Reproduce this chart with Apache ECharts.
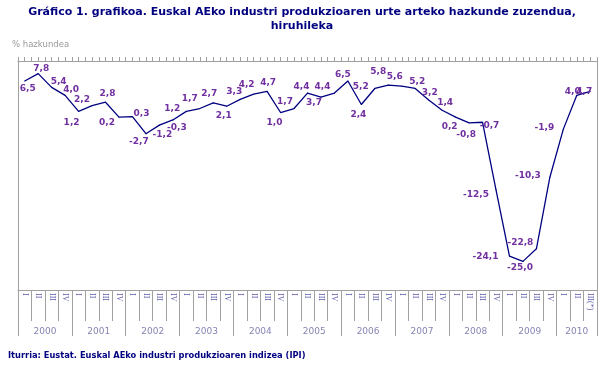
<!DOCTYPE html>
<html>
<head>
<meta charset="utf-8">
<script src="https://cdn.jsdelivr.net/npm/echarts@6/dist/echarts.min.js"></script>
<style>html,body{margin:0;padding:0;background:#fff;}#c{width:602px;height:376px;}</style>
</head>
<body>
<div id="c"></div>
<script>
// ---- data ----
var years = ['2000','2001','2002','2003','2004','2005','2006','2007','2008','2009','2010'];
var quartersPerYear = [4,4,4,4,4,4,4,4,4,4,3];
var quarterNames = ['I','II','III','IV'];
var lastQuarterLabel = 'III(*)';
var values = [
  6.5, 7.8, 5.4, 4.0,
  1.2, 2.2, 2.8, 0.2,
  0.3, -2.7, -1.2, -0.3,
  1.2, 1.7, 2.7, 2.1,
  3.3, 4.2, 4.7, 1.0,
  1.7, 4.4, 3.7, 4.4,
  6.5, 2.4, 5.2, 5.8,
  5.6, 5.2, 3.2, 1.4,
  0.2, -0.8, -0.7, -12.5,
  -24.1, -25.0, -22.8, -10.3,
  -1.9, 4.0, 4.7
];
// label placement offsets (layout only)
var labelOffsets = [
  [3,8],[3,-5],[7,-6],[6,-6],
  [-7,11],[-10,-6],[2,-9],[-12,6],
  [9,-3],[-7,8],[3,10],[4,8],
  [-14,-3],[-10,-10],[-4,-9],[-3,9],
  [-6,-8],[-7,-10],[1,-9],[-6,10],
  [-9,-7],[-6,-6],[-7,6],[-12,-6],
  [-5,-6],[-3,10],[-14,-2],[-10,-13],
  [-7,-10],[2,-7],[1,-7],[3,-8],
  [-6,10],[-3,12],[7,3],[-20,5],
  [-24,0],[-3,6],[-16,-6],[-22,-2],
  [-19,-1],[-4,-4],[-6,0]
];

// ---- build categories ----
var categories = [];
var yearBounds = [0];
var yearCenters = [];
var pos = 0;
years.forEach(function (y, i) {
  var n = quartersPerYear[i];
  for (var q = 0; q < n; q++) {
    var isLast = (i === years.length - 1 && q === n - 1);
    categories.push(isLast ? lastQuarterLabel : quarterNames[q]);
  }
  yearCenters.push(pos + n / 2);
  pos += n;
  yearBounds.push(pos);
});
var total = pos;

function fmt(v) { return v.toFixed(1).replace('.', ','); }

var seriesData = values.map(function (v, i) {
  return { value: v, label: { offset: labelOffsets[i] } };
});

var gray = '#a0a0a0';
var chart = echarts.init(document.getElementById('c'), null, {renderer: 'canvas'});
chart.setOption({
  animation: false,
  backgroundColor: '#ffffff',
  title: [
    {
      text: 'Gráfico 1. grafikoa. Euskal AEko industri produkzioaren urte arteko hazkunde zuzendua,\nhiruhileka',
      left: 302, top: 5, padding: 0,
      textAlign: 'center',
      textStyle: { fontFamily: 'DejaVu Sans', fontSize: 11, fontWeight: 'bold', color: '#000080', lineHeight: 14, align: 'center' }
    },
    {
      text: '% hazkundea', left: 12, top: 40, padding: 0,
      textStyle: { fontFamily: 'DejaVu Sans', fontSize: 8.5, fontWeight: 'normal', color: '#9a9a9a' }
    },
    {
      text: 'Iturria: Eustat. Euskal AEko industri produkzioaren indizea (IPI)', left: 8, top: 352, padding: 0,
      textStyle: { fontFamily: 'DejaVu Sans', fontSize: 8.3, fontWeight: 'bold', color: '#000080' }
    }
  ],
  grid: { left: 18, right: 5, top: 61, bottom: 86 },
  xAxis: [
    {
      type: 'category', data: categories, position: 'bottom', boundaryGap: true,
      axisLine: { show: true, onZero: false, lineStyle: { color: gray, width: 1 } },
      axisTick: { show: true, interval: 0, length: 31, lineStyle: { color: gray } },
      axisLabel: { interval: 0, rotate: -90, margin: 3, fontSize: 8, fontFamily: 'Liberation Serif', color: '#5a5aaa' },
      splitLine: { show: false }
    },
    {
      type: 'value', min: 0, max: total, position: 'bottom',
      axisLine: { show: false, onZero: false },
      axisTick: { show: true, customValues: yearBounds, length: 46, lineStyle: { color: gray } },
      axisLabel: {
        show: true, customValues: yearCenters, margin: 37, fontSize: 9, fontFamily: 'DejaVu Sans', color: '#8585b5',
        formatter: function (v) {
          for (var i = 0; i < yearCenters.length; i++) { if (Math.abs(yearCenters[i] - v) < 1e-6) return years[i]; }
          return '';
        }
      },
      splitLine: { show: false }
    },
    {
      type: 'value', min: 0, max: total, interval: 0.5, position: 'top',
      axisLine: { show: true, onZero: false, lineStyle: { color: gray } },
      axisTick: { show: true, length: 4, lineStyle: { color: gray } },
      axisLabel: { show: false },
      splitLine: { show: false }
    }
  ],
  yAxis: [
    {
      type: 'value', min: -30, max: 10, position: 'left',
      axisLine: { show: true, onZero: false, lineStyle: { color: gray } },
      axisTick: { show: false }, axisLabel: { show: false }, splitLine: { show: false }
    },
    {
      type: 'value', min: -30, max: 10, position: 'right',
      axisLine: { show: true, onZero: false, lineStyle: { color: gray } },
      axisTick: { show: false }, axisLabel: { show: false }, splitLine: { show: false }
    }
  ],
  series: [
    {
      type: 'line', xAxisIndex: 0, yAxisIndex: 0,
      data: seriesData,
      symbol: 'circle', symbolSize: 1, showSymbol: true,
      itemStyle: { color: '#000080' },
      lineStyle: { color: '#000080', width: 1.3 },
      label: {
        show: true, position: 'inside', align: 'center', verticalAlign: 'middle',
        fontFamily: 'DejaVu Sans', fontSize: 9, fontWeight: 'bold', color: '#7030a0',
        formatter: function (p) { return fmt(p.value); }
      },
      emphasis: { disabled: true }
    }
  ]
});
</script>
</body>
</html>
